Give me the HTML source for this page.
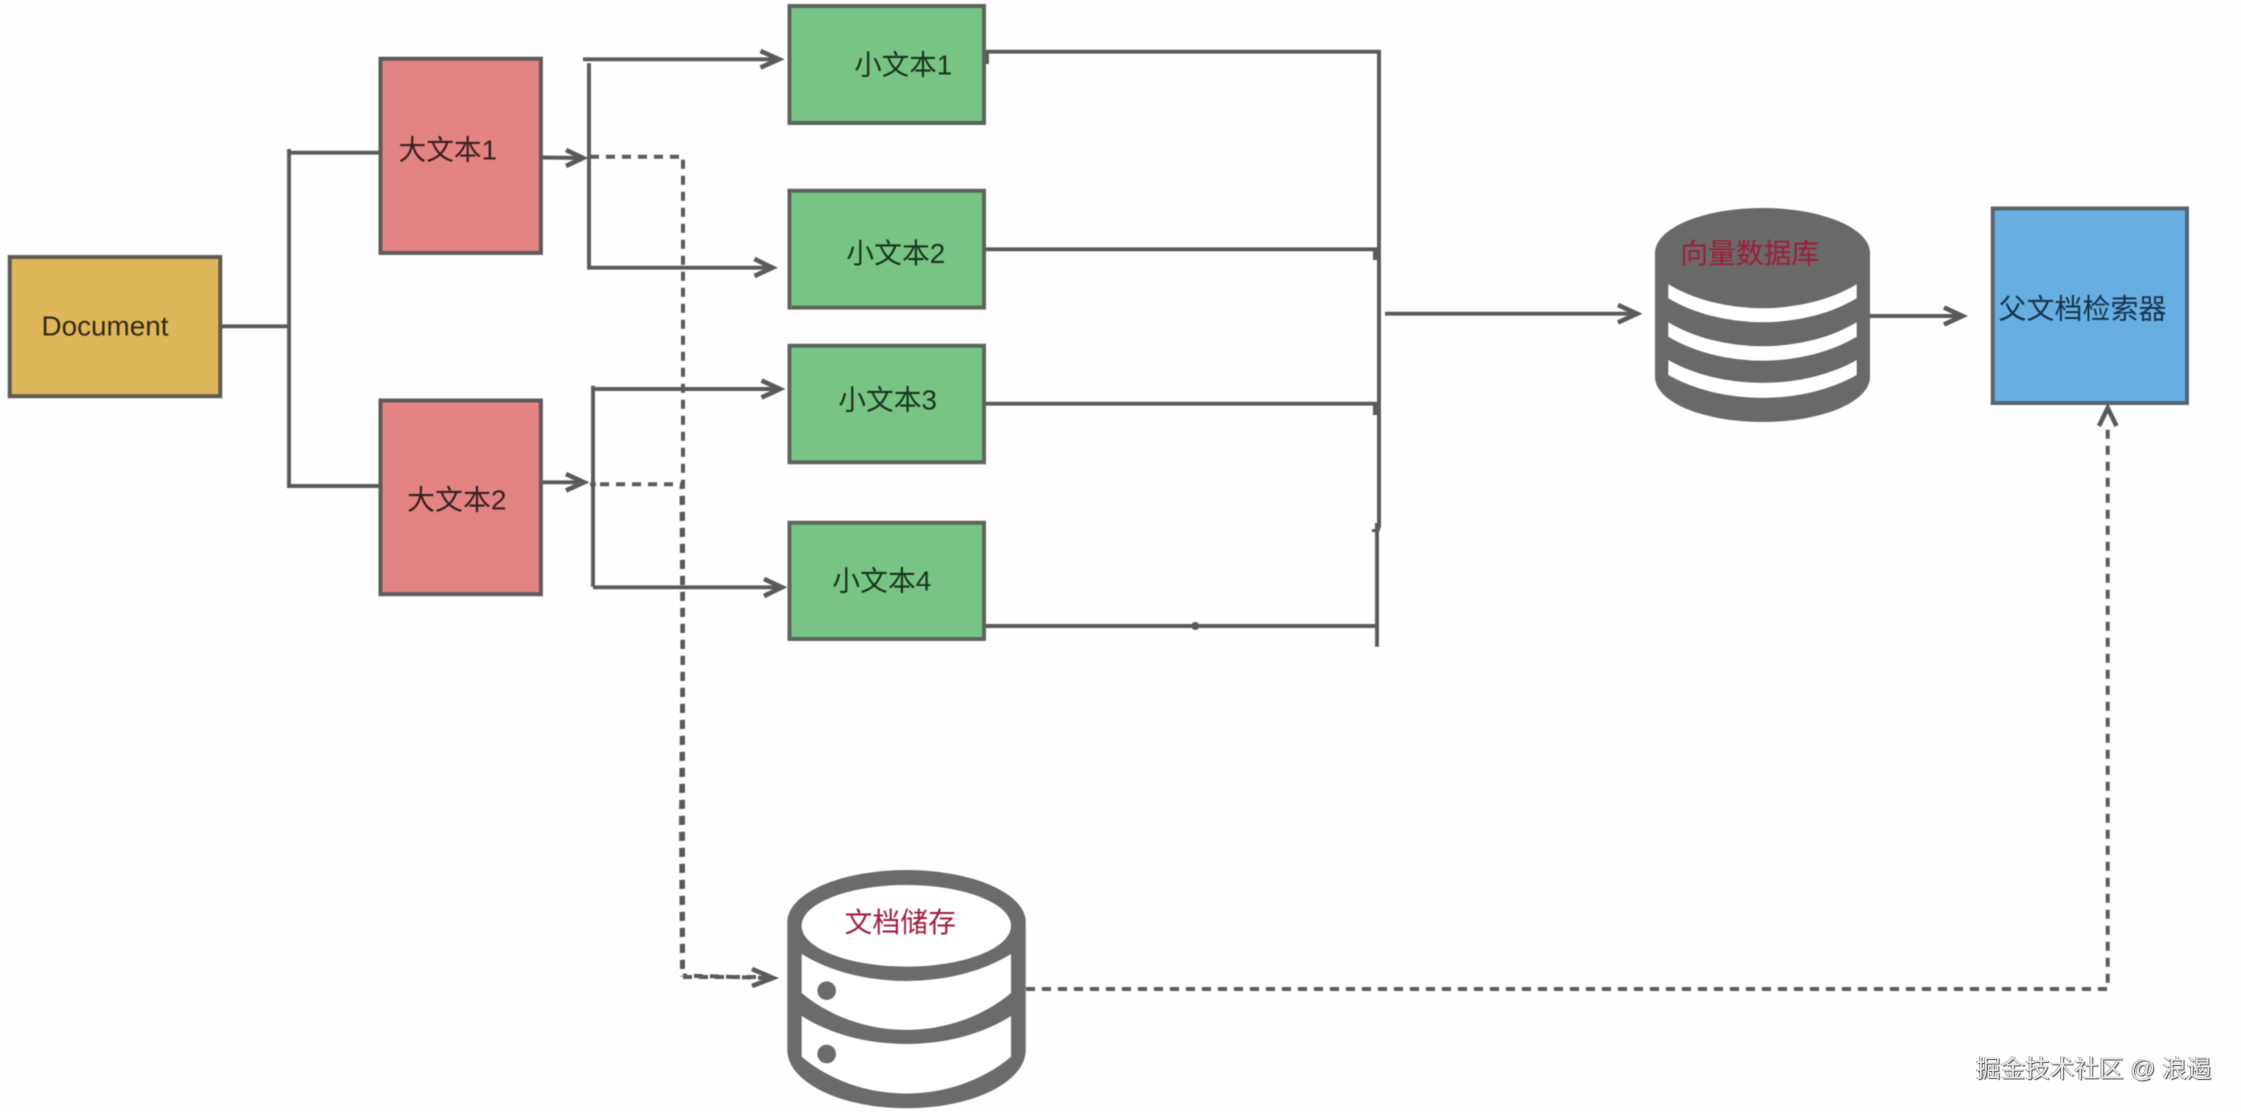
<!DOCTYPE html>
<html lang="zh">
<head>
<meta charset="utf-8">
<title>Diagram</title>
<style>
html,body{margin:0;padding:0;background:#fefefe;}
body{width:2241px;height:1112px;overflow:hidden;position:relative;}
svg{position:absolute;left:0;top:0;filter:blur(.4px);}
svg text{font-family:"Liberation Sans","Noto Sans CJK SC",sans-serif;font-size:28px;font-weight:400;}
.box{stroke-width:4;}
.l{fill:none;stroke:#5a5a5a;stroke-width:3.9;}
.a{fill:none;stroke:#5a5a5a;stroke-width:4.6;}
.d{fill:none;stroke:#5a5a5a;stroke-width:4;stroke-dasharray:9 7;}
#wm{position:absolute;left:1976px;top:1053px;white-space:nowrap;font-family:"Liberation Sans","Noto Sans CJK SC",sans-serif;font-size:24.6px;line-height:34px;color:#e4e4e4;text-shadow:1px 1px 1px #555,-1px 0 0 #aaa;}
</style>
</head>
<body>
<svg width="2241" height="1112" viewBox="0 0 2241 1112" xmlns="http://www.w3.org/2000/svg">
  <!-- boxes -->
  <rect class="box" x="9.75" y="257" width="210.5" height="139.2" fill="#deb75a" stroke="#5f5a52"/>
  <rect class="box" x="380.5" y="58.75" width="160.4" height="194.2" fill="#e38384" stroke="#5f5a5a"/>
  <rect class="box" x="380.5" y="400.5" width="160.4" height="193.7" fill="#e38384" stroke="#5f5a5a"/>
  <rect class="box" x="789.5" y="6" width="194.5" height="117" fill="#78c485" stroke="#5a665c"/>
  <rect class="box" x="789.5" y="190.75" width="194.5" height="116.8" fill="#78c485" stroke="#5a665c"/>
  <rect class="box" x="789.5" y="345.75" width="194.5" height="116.5" fill="#78c485" stroke="#5a665c"/>
  <rect class="box" x="789.5" y="522.75" width="194.5" height="116.2" fill="#78c485" stroke="#5a665c"/>
  <rect class="box" x="1992.75" y="208.5" width="194.2" height="194.5" fill="#67aee3" stroke="#566570"/>

  <!-- document connectors -->
  <path class="l" d="M222,326.3H289M289,149V488M289,152.7H379M289,486H379"/>

  <!-- large text 1 connectors -->
  <path class="l" d="M542.7,157.5L584,158"/>
  <polyline class="a" points="566,150 583,158 566,166"/>
  <path class="l" d="M583,59.3H779"/>
  <polyline class="a" points="760.5,51 779,59.3 760.5,67.5"/>
  <path class="l" d="M589,63.3V267.7H772"/>
  <polyline class="a" points="754.5,259 772.5,267.7 754.5,276"/>

  <!-- large text 2 connectors -->
  <path class="l" d="M542.7,482.3H584"/>
  <polyline class="a" points="566,474 584,482.3 566,490.5"/>
  <path class="l" d="M593,385.7V586.7"/>
  <path class="l" d="M593,389H780"/>
  <polyline class="a" points="761.5,380.5 780,389 761.5,397.5"/>
  <path class="l" d="M593,587.3H782"/>
  <polyline class="a" points="764,579 782,587.3 764,596"/>
  <circle cx="593" cy="484.3" r="3" fill="#5a5a5a"/>

  <!-- dashed to document store -->
  <path class="d" d="M590,156.7H683V976"/>
  <path class="d" d="M600,484.3H682"/>
  <path class="d" d="M681.5,486L682.5,660L681,820L682,976.5" style="stroke-dashoffset:6"/>
  <path class="d" d="M683,977H768"/>
  <path class="d" d="M683,975.5L768,978" style="stroke-dashoffset:5"/>
  <polyline class="a" points="752,969 773,978 752,986"/>

  <!-- right collector -->
  <path class="l" d="M985.7,51.7H1379V528"/>
  <path class="l" d="M987,51.7V64" />
  <path class="l" d="M985.7,249.3H1378"/>
  <path class="l" d="M985.7,403.7H1378"/>
  <path class="l" d="M985.7,626H1377"/>
  <path class="l" d="M1377,523V646.7"/>
  <rect x="1373" y="249" width="5" height="11" fill="#5a5a5a"/>
  <rect x="1373" y="404" width="5" height="11" fill="#5a5a5a"/>
  <rect x="1372" y="529" width="5" height="3" fill="#5a5a5a"/>
  <rect x="1375" y="523" width="5" height="8" fill="#5a5a5a"/>
  <circle cx="1195.3" cy="626" r="4" fill="#5a5a5a"/>
  <path class="l" d="M1385,313.7H1637"/>
  <polyline class="a" points="1618,305 1637,313.7 1618,322.5"/>

  <!-- vector db -->
  <path d="M1655,253A107.5,45 0 0 1 1870,253V377A107.5,45 0 0 1 1655,377Z" fill="#696969"/>
  <path d="M1668.3,284.3A140,92 0 0 0 1856.7,284.3V298.3A140,92 0 0 1 1668.3,298.3Z" fill="#fff"/>
  <path d="M1668.3,322.3A140,92 0 0 0 1856.7,322.3V336.7A140,92 0 0 1 1668.3,336.7Z" fill="#fff"/>
  <path d="M1668.3,360A140,88 0 0 0 1856.7,360V375A140,88 0 0 1 1668.3,375Z" fill="#fff"/>
  <path class="l" d="M1870,316H1962"/>
  <polyline class="a" points="1944,307.5 1962.5,316 1944,324.5"/>

  <!-- document store -->
  <path d="M787.3,922A119.2,52 0 0 1 1025.7,922V1050A119.2,58.3 0 0 1 787.3,1050Z" fill="#6b6b6b"/>
  <ellipse cx="906.3" cy="925.8" rx="104.7" ry="40.8" fill="#fff"/>
  <path d="M801.7,954A150,95 0 0 0 1011,954V993A150,130 0 0 1 801.7,993Z" fill="#fff"/>
  <path d="M801.7,1016A150,98.6 0 0 0 1011,1016V1056.7A150,130 0 0 1 801.7,1056.7Z" fill="#fff"/>
  <circle cx="826.7" cy="990.7" r="9.3" fill="#6b6b6b"/>
  <circle cx="826.7" cy="1054" r="9.3" fill="#6b6b6b"/>

  <!-- dashed to retriever -->
  <path class="d" d="M1026,989H2107.7V426"/>
  <polyline class="a" points="2099,426 2107.7,408 2116.5,426"/>

  <!-- labels -->
  <text x="41.5" y="335.3" fill="#33290f" textLength="127" lengthAdjust="spacingAndGlyphs">Document</text>
  <text x="398.5" y="159.5" fill="#38201e" textLength="98.5" lengthAdjust="spacingAndGlyphs">大文本1</text>
  <text x="407" y="509.5" fill="#38201e" textLength="99.5" lengthAdjust="spacingAndGlyphs">大文本2</text>
  <text x="854.2" y="74.5" fill="#18331f" textLength="97.8" lengthAdjust="spacingAndGlyphs">小文本1</text>
  <text x="846.3" y="262.8" fill="#18331f" textLength="99" lengthAdjust="spacingAndGlyphs">小文本2</text>
  <text x="838.3" y="409.5" fill="#18331f" textLength="98.7" lengthAdjust="spacingAndGlyphs">小文本3</text>
  <text x="832.3" y="590.5" fill="#18331f" textLength="99" lengthAdjust="spacingAndGlyphs">小文本4</text>
  <text x="1998.5" y="318.5" fill="#14324a" textLength="168" lengthAdjust="spacingAndGlyphs">父文档检索器</text>
  <text x="1680.2" y="263" fill="#a01c3a" textLength="139" lengthAdjust="spacingAndGlyphs">向量数据库</text>
  <text x="844.5" y="932" fill="#a01c3a" textLength="111.5" lengthAdjust="spacingAndGlyphs">文档储存</text>
</svg>
<div id="wm">掘金技术社区 @ 浪遏</div>
</body>
</html>
